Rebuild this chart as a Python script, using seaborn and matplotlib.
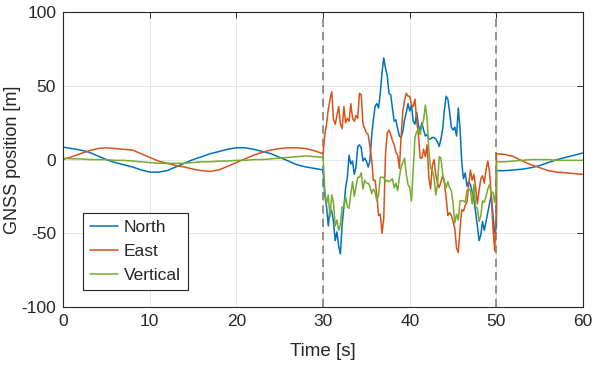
import numpy as np
import pandas as pd
import matplotlib.pyplot as plt
import seaborn as sns

# time axis: smooth part, GNSS outage part (30-50 s), smooth part again
t_before = np.arange(0, 31, 1.0)
t_outage = np.round(np.arange(30.2, 50.01, 0.2), 1)
t_after = np.arange(50, 61, 1.0)

north_before = [8.5, 7.5, 6.5, 5, 2.5, 0, -2, -3.5, -5, -7, -8.5, -8.5, -7.5, -5, -2.5, 0,
                2, 4, 5.5, 7, 8, 8, 7, 5.5, 4, 1.5, -1, -3.5, -5, -6, -7]
north_outage = [-24, -32, -45, -33, -35, -42, -55, -49, -59, -64,
                -44, -32, -19, -12, 3, -3, -1, -10, -5, 9,
                10, 8, -1, 1, -1, -5, -1, 16, 27, 36,
                38, 35, 45, 59, 69, 62, 57, 45, 44, 35,
                26, 27, 21, 16, 15, 19, 27, 32, 38, 33,
                37, 26, 24, 32, 23, 20, 25, 20, 16, 17,
                14, 14, 15, 15, 14, 12, 9, 14, 21, 34,
                43, 41, 32, 22, 20, 22, 16, 35, 21, -2,
                -13, -9, -18, -15, -17, -22, -27, -36, -45, -55,
                -51, -42, -48, -42, -36, -30, -24, -38, -50, -45]
north_after = [-7.5, -7.5, -7, -6.5, -5.5, -4, -2, 0, 1.5, 3, 4.5]

east_before = [0, 2, 4, 6, 7.5, 8, 7.5, 7, 6.5, 4, 1.5, -1, -2.5, -4, -5, -6.5,
               -7.5, -8, -7, -4.5, -2, 0.5, 3, 5, 6.5, 7.5, 8, 8, 7.5, 6, 4]
east_outage = [17, 24, 34, 41, 46, 27, 24, 30, 36, 24,
               21, 36, 25, 28, 26, 38, 28, 26, 30, 28,
               45, 44, 24, 21, 18, 17, 9, 0, -14, -14,
               -24, -38, -37, -50, -40, 3, 18, 20, 17, 13,
               10, 5, 3, -6, 15, 33, 40, 45, 43, 43,
               37, 36, 41, 26, 17, 1, 1, 7, 2, 10,
               -12, -20, -4, 0, -10, -16, -19, -15, -11, -16,
               -26, -38, -36, -38, -42, -47, -60, -63, -47, -34,
               -35, -31, -29, -17, -7, -14, -10, -19, -30, -21,
               -13, -11, -16, -7, -1, -8, -24, -46, -62, -35]
east_after = [4, 3.5, 2, -1, -3.5, -5.5, -7.5, -8.5, -9, -9.5, -10]

vert_before = [1, 0.5, 0.5, 0, 0, 0, -0.5, -0.5, -1, -1.5, -2, -2.5, -2.5, -2.5, -2.5, -2,
               -1.5, -1.5, -1, -1, -0.5, -0.5, 0, 0, 0.5, 1, 1.5, 2, 2.5, 2, 1.5]
vert_outage = [-21, -30, -24, -39, -24, -29, -45, -41, -48, -44,
               -32, -33, -25, -32, -33, -23, -15, -25, -18, -12,
               -12, -9, -20, -14, -16, -16, -18, -23, -20, -22,
               -28, -24, -12, -12, -12, -15, -14, -15, -14, -13,
               -19, -16, -21, -12, -5, -2, 1, -10, -17, -19,
               -28, -6, 15, 19, 21, 17, 23, 27, 37, 28,
               6, -6, -7, -12, -24, -17, 2, 1, -10, -15,
               -19, -15, -19, -21, -30, -43, -37, -41, -28, -28,
               -28, -29, -21, -20, -21, -30, -17, -32, -33, -42,
               -38, -28, -29, -25, -20, -17, -23, -22, -29, -19]
vert_after = [-1.5, -1.5, -1, -0.5, 0, 0, 0, -0.5, -0.5, -0.5, -0.5]

labels = ["North", "East", "Vertical"]
colors = {"North": "#0072BD", "East": "#D95319", "Vertical": "#77AC30"}

time = np.concatenate([t_before, t_outage, t_after])
series = {
    "North": north_before + north_outage + north_after,
    "East": east_before + east_outage + east_after,
    "Vertical": vert_before + vert_outage + vert_after,
}
df = pd.concat([pd.DataFrame({"time": time, "pos": series[k], "axis": k}) for k in labels])

sns.set_style("whitegrid")
plt.rcParams['font.family'] = ['Liberation Sans', 'DejaVu Sans']
plt.rcParams['axes.unicode_minus'] = False

fig, ax = plt.subplots(figsize=(5.95, 3.69), dpi=100)
fig.subplots_adjust(left=0.106, right=0.98, bottom=0.168, top=0.967)

sns.lineplot(data=df, x="time", y="pos", hue="axis", hue_order=labels, palette=colors,
             estimator=None, sort=False, linewidth=1.1, ax=ax)

# outage boundaries
for xv in [30, 50]:
    ax.axvline(xv, color="#7f7f7f", linestyle=(0, (5, 3)), linewidth=1.2, zorder=1)

ax.set_xlim(0, 60)
ax.set_ylim(-100, 100)
ax.set_xticks(range(0, 61, 10))
ax.set_yticks(range(-100, 101, 50))
ax.set_xlabel("Time [s]", fontsize=13.5, color="#262626", labelpad=10)
ax.set_ylabel("GNSS position [m]", fontsize=13, color="#262626", labelpad=0.5)
ax.tick_params(direction="in", length=4, width=0.7, colors="#262626", labelsize=12.5,
               top=True, right=True, pad=5)
ax.grid(True, color="#e6e6e6", linewidth=0.7)
for sp in ax.spines.values():
    sp.set_color("#262626")
    sp.set_linewidth(0.8)

leg = ax.legend(loc="lower left", bbox_to_anchor=(0.038, 0.058), borderaxespad=0,
                fontsize=12.5, frameon=True, fancybox=False, framealpha=1,
                edgecolor="#262626", handlelength=1.6, handletextpad=0.35,
                borderpad=0.4, labelspacing=0.5)
leg.get_frame().set_linewidth(0.8)

plt.savefig("out.png", dpi=100)
plt.close()
